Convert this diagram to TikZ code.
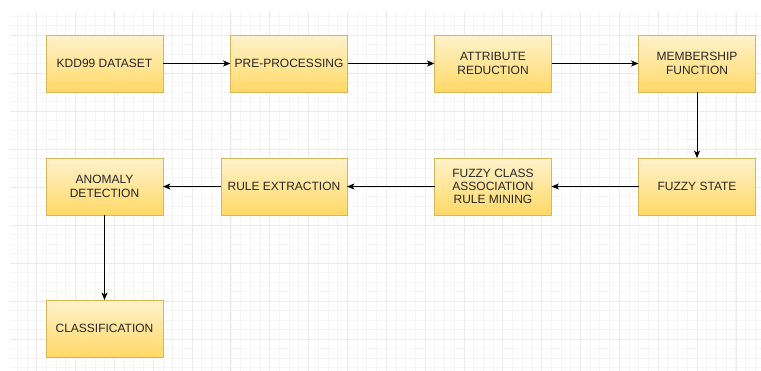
\documentclass[tikz,border=0pt]{standalone}
\usepackage{fontspec}
\setmainfont{Liberation Sans}
\usepackage{tikz}
\usetikzlibrary{positioning,arrows.meta}

\definecolor{stagetop}{HTML}{FFF2CC}
\definecolor{stagebot}{HTML}{FFD966}
\definecolor{stageline}{HTML}{D6B656}

\begin{document}
\begin{tikzpicture}[x=0.75pt,y=-0.75pt,
  stage/.style={rectangle, draw=stageline, line width=0.75pt, top color=stagetop, bottom color=stagebot,
    minimum width=87.75pt, minimum height=42.75pt, inner sep=1pt, outer sep=0pt, align=center,
    text=black!85, font={\fontsize{9}{10}\selectfont}},
  flow/.style={line width=0.75pt, -{Stealth[length=5.5pt,width=4.5pt,inset=1.3pt]}},
  minorline/.style={line width=0.6pt, draw=black!4},
  majorline/.style={line width=0.75pt, draw=black!8}
]
\useasboundingbox[fill=white] (0,0) rectangle (761,371);
\begin{scope}
\clip (10,12) rectangle (761,371);
\foreach \i in {-3,...,75} \draw[minorline] ({36.7+9.71*\i},12) -- ({36.7+9.71*\i},371);
\foreach \j in {-3,...,36} \draw[minorline] (10,{35+9.5*\j}) -- (761,{35+9.5*\j});
\foreach \i in {-1,...,19} \draw[majorline] ({36.7+38.85*\i},12) -- ({36.7+38.85*\i},371);
\foreach \j in {-1,...,9} \draw[majorline] (10,{35+38*\j}) -- (761,{35+38*\j});
\end{scope}

\node[stage] (kdd) at (104.5,63.5) {KDD99 DATASET};
\node[stage] (prep) at (289,63.5) {PRE-PROCESSING};
\node[stage] (attr) at (493,63.5) {ATTRIBUTE\\REDUCTION};
\node[stage] (memb) at (697,63.5) {MEMBERSHIP\\FUNCTION};
\node[stage] (fstate) at (697,186.5) {FUZZY STATE};
\node[stage] (fcarm) at (493,186.5) {FUZZY CLASS\\ASSOCIATION\\RULE MINING};
\node[stage, minimum width=94.5pt] (rules) at (284,186.5) {RULE EXTRACTION};
\node[stage] (anom) at (104.5,186.5) {ANOMALY\\DETECTION};
\node[stage] (clsf) at (104.5,328.5) {CLASSIFICATION};

\draw[flow] (kdd) -- (prep);
\draw[flow] (prep) -- (attr);
\draw[flow] (attr) -- (memb);
\draw[flow] (memb) -- (fstate);
\draw[flow] (fstate) -- (fcarm);
\draw[flow] (fcarm) -- (rules);
\draw[flow] (rules) -- (anom);
\draw[flow] (anom) -- (clsf);
\end{tikzpicture}
\end{document}
